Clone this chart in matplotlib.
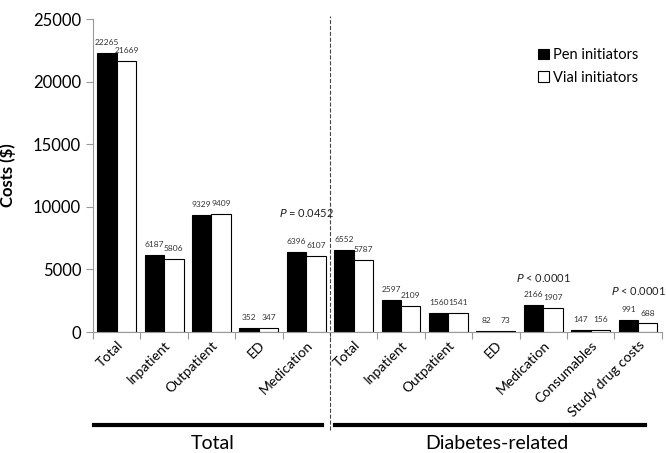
import matplotlib.pyplot as plt
import numpy as np

plt.rcParams['font.family'] = ['Lato', 'DejaVu Sans']

categories = ['Total', 'Inpatient', 'Outpatient', 'ED', 'Medication',
              'Total', 'Inpatient', 'Outpatient', 'ED', 'Medication',
              'Consumables', 'Study drug costs']
pen = [22265, 6187, 9329, 352, 6396, 6552, 2597, 1560, 82, 2166, 147, 991]
vial = [21669, 5806, 9409, 347, 6107, 5787, 2109, 1541, 73, 1907, 156, 688]

# p-value notes: (group index, y, text)
p_notes = [(4, 9500, 'P', ' = 0.0452'),
           (9, 4300, 'P', ' < 0.0001'),
           (11, 3270, 'P', ' < 0.0001')]

fig = plt.figure(figsize=(6.66, 4.53), dpi=100)
ax = fig.add_axes([0.1396, 0.267, 0.854, 0.691])

x = np.arange(len(categories))
w = 0.41
ax.bar(x - w / 2, pen, w, color='black', edgecolor='black', linewidth=0.8, label='Pen initiators')
ax.bar(x + w / 2, vial, w, color='white', edgecolor='black', linewidth=0.8, label='Vial initiators')

for i in range(len(categories)):
    ax.text(x[i] - w / 2, pen[i] + 550, str(pen[i]), ha='center', va='bottom', fontsize=6, color='#333333')
    ax.text(x[i] + w / 2, vial[i] + 550, str(vial[i]), ha='center', va='bottom', fontsize=6, color='#333333')

for gi, yv, p, rest in p_notes:
    ax.text(gi, yv, r'$\it{P}$' + rest, ha='center', va='center', fontsize=8, color='#222222')

ax.set_xlim(-0.5, len(categories) - 0.5)
ax.set_ylim(0, 25000)
ax.set_yticks([0, 5000, 10000, 15000, 20000, 25000])
ax.set_xticks(np.arange(-0.5, len(categories)), minor=False)
ax.set_xticklabels([])
ax.set_xticks(x, minor=True)
ax.set_xticklabels(categories, minor=True, rotation=45, ha='right', rotation_mode='anchor', fontsize=10)
ax.tick_params(axis='x', which='minor', length=0, pad=5)
ax.tick_params(axis='x', which='major', length=5, color='#999999')
ax.tick_params(axis='y', length=5, color='#999999', labelsize=12)
for s in ['top', 'right']:
    ax.spines[s].set_visible(False)
for s in ['left', 'bottom']:
    ax.spines[s].set_color('#999999')
ax.set_ylabel('Costs ($)', fontsize=12, fontweight='bold')
ax.yaxis.set_label_coords(-0.135, 0.5)

# group separator and brackets
trans = ax.get_xaxis_transform()
ax.plot([4.5, 4.5], [-0.313, 1.01], transform=trans, color='#444444', linestyle='--', linewidth=0.8, clip_on=False)
ax.plot([-0.48, 4.33], [-0.297, -0.297], transform=trans, color='black', linewidth=3, clip_on=False)
ax.plot([4.6, 11.15], [-0.297, -0.297], transform=trans, color='black', linewidth=3, clip_on=False)
ax.text(2.03, -0.355, 'Total', transform=trans, ha='center', va='center', fontsize=14)
ax.text(8.02, -0.355, 'Diabetes-related', transform=trans, ha='center', va='center', fontsize=14)

ax.legend(loc='upper left', bbox_to_anchor=(0.76, 0.95), frameon=False, fontsize=10.5,
          handlelength=0.7, handleheight=0.7, handletextpad=0.3, labelspacing=0.6)

fig.savefig('out.png', dpi=100)
